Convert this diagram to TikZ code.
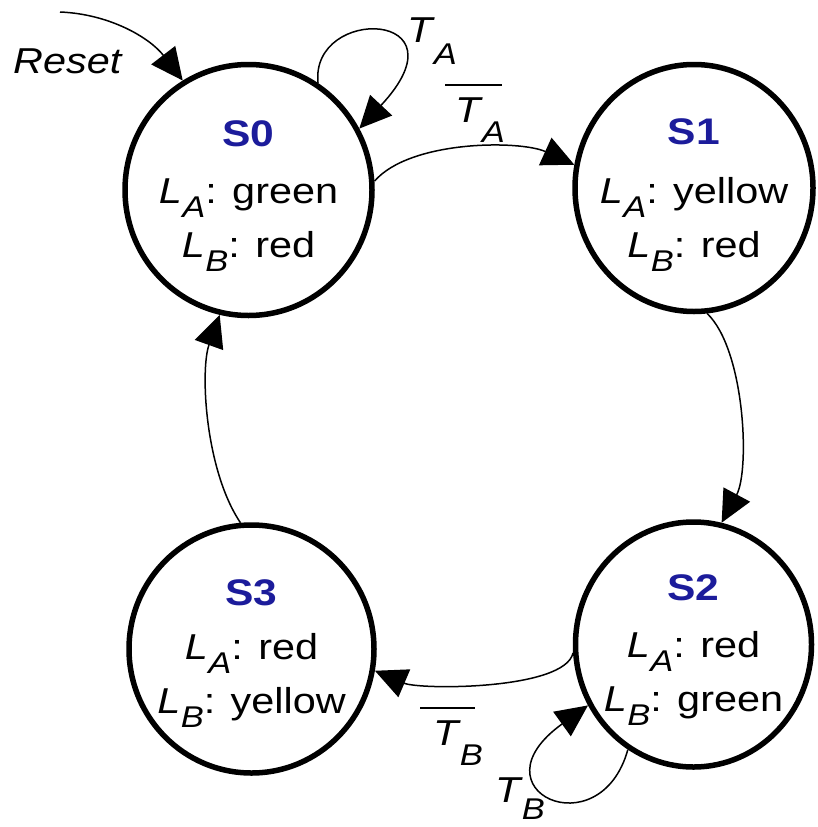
\documentclass[tikz,border=0pt]{standalone}
\usepackage{fontspec}
\setmainfont{Liberation Sans}[FakeStretch=1.15]
\usetikzlibrary{arrows.meta,shapes.geometric}
\definecolor{sblue}{RGB}{28,28,155}
\newcommand\Lsub[1]{\textit{L}\kern0.5pt\raisebox{-14pt}{\fontsize{30}{30}\selectfont\itshape #1}}
\newcommand\Tsub[2]{\textit{T}\kern-1pt\raisebox{-#2}{\fontsize{30}{30}\selectfont\itshape #1}}
\newcommand\Tbar[4]{\makebox[0pt][l]{\kern#3\raisebox{36pt}{\rule{#4}{1.8pt}}}\Tsub{#1}{#2}}
\begin{document}
\begin{tikzpicture}[x=1pt,y=-1pt,
  stt/.style={ellipse,draw=black,line width=5.5pt,inner sep=0pt},
  txt/.style={inner sep=0pt,anchor=base,font=\fontsize{36}{40}\selectfont},
  ttl/.style={inner sep=0pt,anchor=base,font=\fontsize{37}{40}\selectfont\bfseries,text=sblue},
  conn/.style={line width=1.5pt,-{Triangle[length=32pt,width=30pt]}},
  lbl/.style={inner sep=0pt,anchor=base west,font=\fontsize{36}{40}\selectfont}
]
\useasboundingbox[fill=white] (0,0) rectangle (817,827);
% states
\node[stt,minimum width=247pt,minimum height=251pt] (s0) at (248.5,190) {};
\node[stt,minimum width=238pt,minimum height=247pt] (s1) at (694,188) {};
\node[stt,minimum width=236pt,minimum height=245pt] (s2) at (693.5,644.5) {};
\node[stt,minimum width=245pt,minimum height=248pt] (s3) at (251.5,649) {};
% state texts
\node[ttl] (s0t) at (248.5,146) {S0};
\node[txt] (s0a) at (248.5,203) {\Lsub{A}: green};
\node[txt] (s0b) at (248.5,257) {\Lsub{B}: red};
\node[ttl] (s1t) at (694,144) {S1};
\node[txt] (s1a) at (694,203) {\Lsub{A}: yellow};
\node[txt] (s1b) at (694,257) {\Lsub{B}: red};
\node[ttl] (s2t) at (693.5,600.5) {S2};
\node[txt] (s2a) at (693.5,657.5) {\Lsub{A}: red};
\node[txt] (s2b) at (693.5,711.5) {\Lsub{B}: green};
\node[ttl] (s3t) at (251.5,605) {S3};
\node[txt] (s3a) at (251.5,659) {\Lsub{A}: red};
\node[txt] (s3b) at (251.5,713) {\Lsub{B}: yellow};
% connectors
\coordinate (rst) at (60,12);
\draw[conn] (rst) .. controls (110,14) and (150,38) .. (s0.121);
\draw[conn] (s0.57) .. controls (310,5) and (470,10) .. (s0.29);
\draw[conn] (s0.4) .. controls (410,140) and (520,140) .. (s1.169);
\draw[conn] (s1.-84) .. controls (745,350) and (750,470) .. (s2.77);
\draw[conn] (s2.184) .. controls (565,690) and (420,690) .. (s3.350);
\draw[conn] (s2.238) .. controls (600,850) and (470,790) .. (s2.210);
\draw[conn] (s3.95) .. controls (205,470) and (200,370) .. (s0.257);
% labels
\node[lbl,font=\fontsize{36}{40}\selectfont\itshape] (reset) at (13,73) {Reset};
\node[lbl] (ta) at (407,42) {\Tsub{A}{22pt}};
\node[lbl] (nta) at (455,122) {\Tbar{A}{20pt}{-10pt}{57pt}};
\node[lbl] (ntb) at (433,745) {\Tbar{B}{20pt}{-13pt}{55pt}};
\node[lbl] (tb) at (495,802) {\Tsub{B}{17pt}};
\end{tikzpicture}
\end{document}
